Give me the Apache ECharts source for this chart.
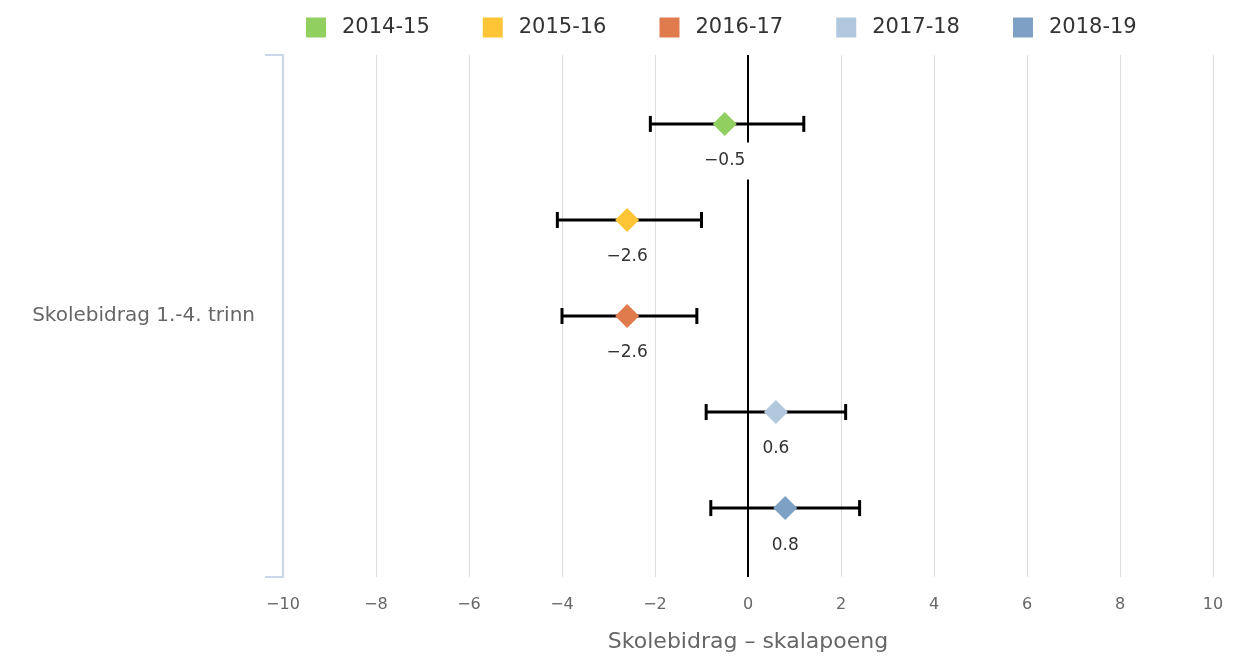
<!DOCTYPE html>
<html>
<head>
<meta charset="utf-8">
<title>Skolebidrag</title>
<script src="https://cdn.jsdelivr.net/npm/echarts@6/dist/echarts.min.js"></script>
<style>
  html, body { margin: 0; padding: 0; background: #fff; }
  #chart { width: 1238px; height: 658px; }
</style>
</head>
<body>
<div id="chart"></div>
<script>
// data
const category = ["Skolebidrag 1.-4. trinn"]
const years = ["2014-15", "2015-16", "2016-17", "2017-18", "2018-19"]
const estimates = [-0.5, -2.6, -2.6, 0.6, 0.8]
const lower = [-2.1, -4.1, -4.0, -0.9, -0.8]
const upper = [1.2, -1.0, -1.1, 2.1, 2.4]
const colors = ["#91cf60", "#fec637", "#e07b4e", "#b0c7dd", "#7da0c4"]
const xTicks = { min: -10, max: 10, interval: 2 }

const font = "DejaVu Sans"
const spread = 0.184 // share of the band between two years
const minus = v => String(v).replace("-", "\u2212")

function makeRender(idx) {
  return function (params, api) {
    const lo = api.coord([api.value(0), 0])
    const hi = api.coord([api.value(1), 0])
    const mid = api.coord([api.value(2), 0])
    const band = api.size([0, 1])[1]
    const y = mid[1] + (idx - 2) * spread * band
    const cap = 8
    const d = 12
    const lineStyle = { stroke: "#000", lineWidth: 3 }
    return {
      type: "group",
      children: [
        { type: "line", shape: { x1: lo[0], y1: y, x2: hi[0], y2: y }, style: lineStyle },
        { type: "line", shape: { x1: lo[0], y1: y - cap, x2: lo[0], y2: y + cap }, style: lineStyle },
        { type: "line", shape: { x1: hi[0], y1: y - cap, x2: hi[0], y2: y + cap }, style: lineStyle },
        {
          type: "polygon",
          z2: 5,
          shape: { points: [[mid[0], y - d], [mid[0] + d, y], [mid[0], y + d], [mid[0] - d, y]] },
          style: { fill: api.visual("color") }
        },
        {
          type: "text",
          z2: 10,
          x: mid[0],
          y: y + 37,
          style: {
            text: minus(api.value(2)),
            fill: "#333",
            font: "17px '" + font + "'",
            align: "center",
            verticalAlign: "middle",
            backgroundColor: "#fff",
            padding: [10, 6]
          }
        }
      ]
    }
  }
}

const series = [
  {
    // zero line
    type: "line",
    data: [],
    z: 1,
    silent: true,
    markLine: {
      z: 1,
      silent: true,
      symbol: "none",
      label: { show: false },
      lineStyle: { color: "#000", width: 2, type: "solid" },
      data: [{ xAxis: 0 }]
    }
  }
]
years.forEach((yr, i) => {
  series.push({
    type: "custom",
    name: yr,
    z: 3,
    itemStyle: { color: colors[i] },
    renderItem: makeRender(i),
    data: [[lower[i], upper[i], estimates[i], 0]],
    encode: { x: [0, 1, 2], y: 3 }
  })
})

const option = {
  animation: false,
  textStyle: { fontFamily: font },
  legend: {
    data: years,
    left: 301,
    top: 12,
    icon: "rect",
    itemWidth: 20,
    itemHeight: 20,
    itemGap: 53,
    textStyle: { fontSize: 21, color: "#333", fontFamily: font, padding: [0, 0, 0, 11] }
  },
  grid: { left: 283, right: 25, top: 55, bottom: 80, containLabel: false },
  xAxis: {
    type: "value",
    min: xTicks.min,
    max: xTicks.max,
    interval: xTicks.interval,
    axisLine: { show: false },
    axisTick: { show: false },
    splitLine: { show: true, lineStyle: { color: "#dedede", width: 1 } },
    axisLabel: { fontSize: 16, color: "#666", margin: 20, formatter: minus },
    name: "Skolebidrag – skalapoeng",
    nameLocation: "middle",
    nameGap: 54,
    nameTextStyle: { fontSize: 22, color: "#666" }
  },
  yAxis: {
    type: "category",
    data: category,
    axisLine: { show: true, onZero: false, lineStyle: { color: "#ccd6eb", width: 2 } },
    axisTick: { show: true, length: 18, lineStyle: { color: "#ccd6eb", width: 2 } },
    axisLabel: { fontSize: 20, color: "#666", margin: 28 },
    splitLine: { show: false }
  },
  series
}

const myChart = echarts.init(document.getElementById("chart"))
myChart.setOption(option)
window.addEventListener("resize", function () {
  myChart.resize()
})
</script>
</body>
</html>
